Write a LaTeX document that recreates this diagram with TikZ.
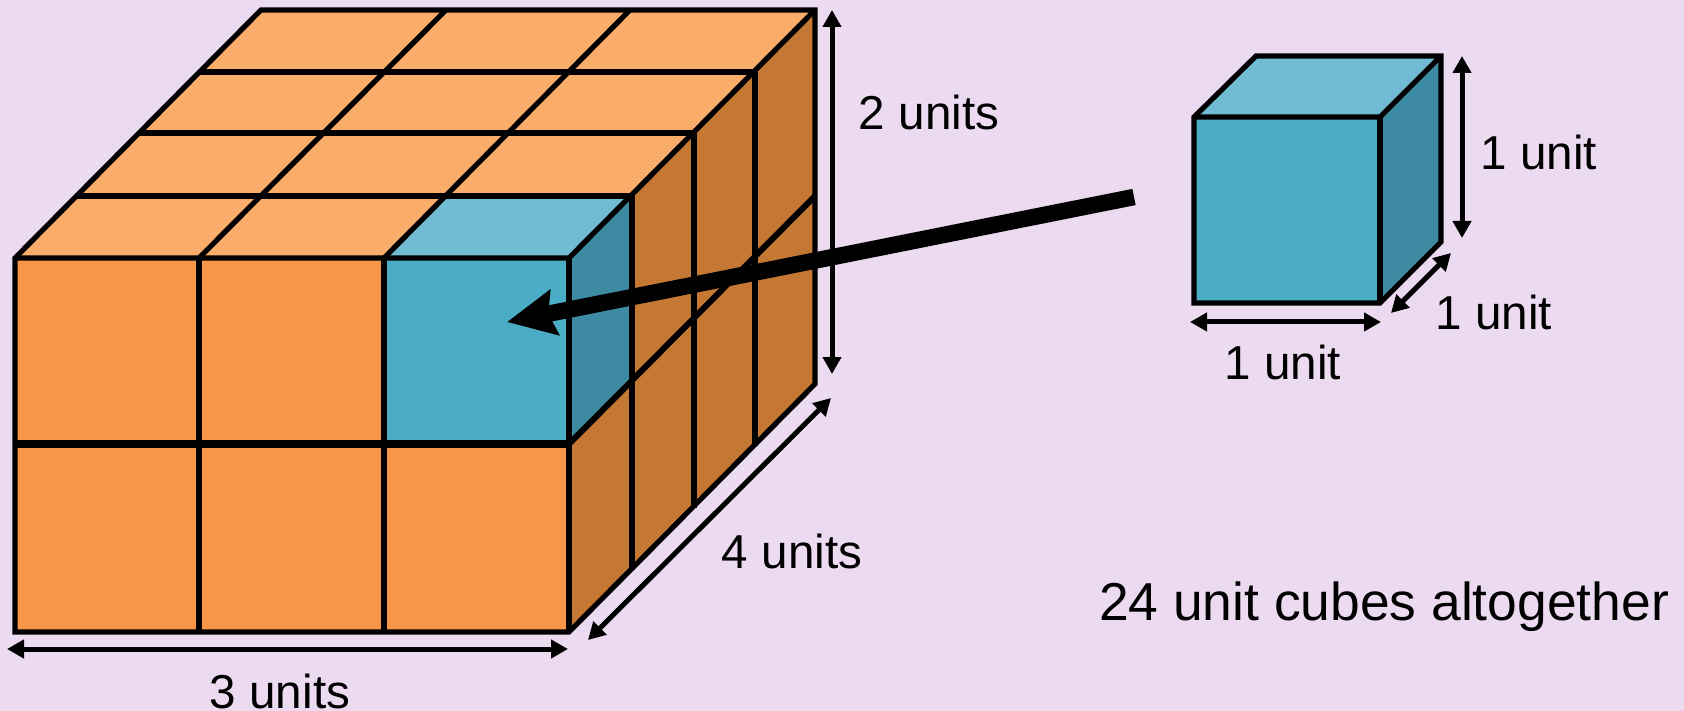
\documentclass[tikz,border=0pt]{standalone}
\usepackage{fontspec}
\setmainfont{Liberation Sans}
\usepackage{xcolor}
\usepackage{tikz}
\usetikzlibrary{positioning,arrows.meta,calc}
\definecolor{bgpurple}{HTML}{ECDAF0}
\definecolor{orfront}{HTML}{F79646}
\definecolor{ortop}{HTML}{FAAC6B}
\definecolor{orside}{HTML}{C47833}
\definecolor{blfront}{HTML}{4BACC6}
\definecolor{bltop}{HTML}{71BBD3}
\definecolor{blside}{HTML}{3F8AA3}

\begin{document}
\begin{tikzpicture}[
    x=1pt, y=-1pt,
    every path/.style={line width=5.2pt},
    face/.style={draw, line join=miter},
    annot/.style={font=\fontsize{47.6}{50}\selectfont, inner sep=0pt},
    dimarrow/.style={{Triangle[length=17pt,width=18pt]}-{Triangle[length=17pt,width=18pt]}, line width=5pt},
    bigarrow/.style={-{Stealth[length=48pt,width=45pt,inset=6pt]}, line width=16.5pt}
]

\fill[bgpurple] (0,0) rectangle (1684,711);
\useasboundingbox (0,0) rectangle (1684,711);

% Large block
\fill[ortop] (15,258) -- (261,10) -- (815,10) -- (569,258) -- cycle;
\fill[orside] (569,258) -- (815,10) -- (815,384) -- (569,632) -- cycle;
\fill[orfront] (15,258) rectangle (569,632);

% Blue cube inside the block
\fill[bltop] (384,258) -- (446,196) -- (632,196) -- (569,258) -- cycle;
\fill[blside] (569,258) -- (632,196) -- (632,381) -- (569,444) -- cycle;
\fill[blfront] (384,258) rectangle (569,444);

\draw[face] (15,258) -- (261,10) -- (815,10) -- (815,384) -- (569,632) -- (15,632) -- cycle;
\draw (199,258) -- (199,632);
\draw (384,258) -- (384,632);
\draw (569,258) -- (569,632);
\draw (15,258) -- (569,258) -- (815,10);
\draw[line width=7.5pt] (15,444) -- (569,444);
\draw (76,196) -- (632,196);
\draw (138,133) -- (694,133);
\draw (200,72) -- (755,72);
\draw (199,258) -- (446,10);
\draw (384,258) -- (630,10);
\draw (632,196) -- (632,570);
\draw (694,133) -- (694,508);
\draw (755,72) -- (755,446);
\draw[line width=6pt] (569,444) -- (815,196);

% Single cube
\fill[bltop] (1194,117) -- (1256,56) -- (1441,56) -- (1380,117) -- cycle;
\fill[blside] (1380,117) -- (1441,56) -- (1441,242) -- (1380,303) -- cycle;
\fill[blfront] (1194,117) rectangle (1380,303);
\draw[face] (1194,117) -- (1256,56) -- (1441,56) -- (1441,242) -- (1380,303) -- (1194,303) -- cycle;
\draw (1194,117) -- (1380,117) -- (1441,56);
\draw (1380,117) -- (1380,303);

% Dimension arrows
\coordinate (blockw1) at (7,649);
\coordinate (blockw2) at (568,649);
\coordinate (blockd1) at (588,640);
\coordinate (blockd2) at (831,398);
\coordinate (blockh1) at (832,10);
\coordinate (blockh2) at (832,374);
\coordinate (cubew1) at (1190,322);
\coordinate (cubew2) at (1381,322);
\coordinate (cubed1) at (1391,313);
\coordinate (cubed2) at (1451,253);
\coordinate (cubeh1) at (1462,56);
\coordinate (cubeh2) at (1462,238);

\draw[dimarrow] (blockw1) -- (blockw2);
\draw[dimarrow] (blockd1) -- (blockd2);
\draw[dimarrow] (blockh1) -- (blockh2);
\draw[dimarrow] (cubew1) -- (cubew2);
\draw[dimarrow] (cubed1) -- (cubed2);
\draw[dimarrow] (cubeh1) -- (cubeh2);

% Arrow from the single cube into the block
\coordinate (tailpt) at (1134,197);
\coordinate (tippt) at (507,322);
\draw[bigarrow] (tailpt) -- (tippt);

\node[annot] (lblthree) at (280,691) {3 units};
\node[annot] (lblfour) at (792,551) {4 units};
\node[annot] (lbltwo) at (929,112) {2 units};
\node[annot] (lblcubeh) at (1539,152) {1 unit};
\node[annot] (lblcubed) at (1494,312) {1 unit};
\node[annot] (lblcubew) at (1283,362) {1 unit};
\node[annot, font=\fontsize{53.4}{56}\selectfont] (lbltotal) at (1384,607) {24 unit cubes altogether};

\end{tikzpicture}
\end{document}
